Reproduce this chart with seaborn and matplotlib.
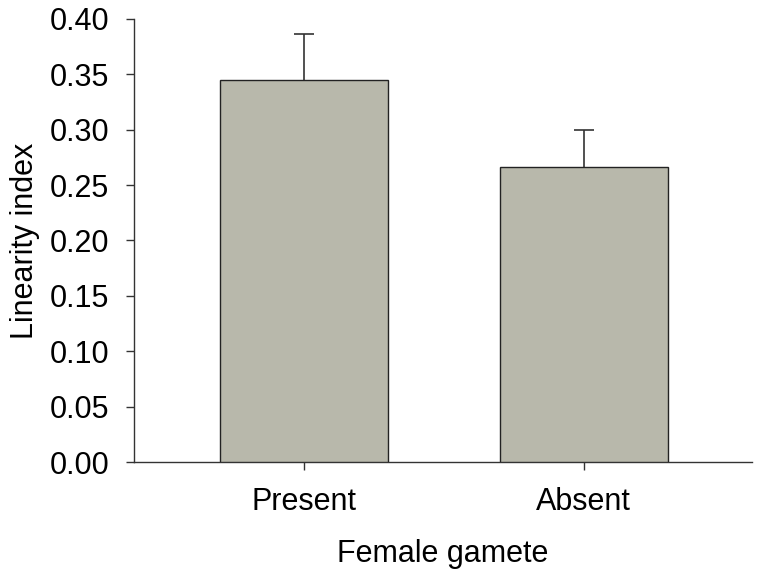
import numpy as np
import pandas as pd
import seaborn as sns
from matplotlib import pyplot as plt

# values
categories = ["Present", "Absent"]
means = [0.345, 0.266]
errors = [0.041, 0.034]
yticks = [0.00, 0.05, 0.10, 0.15, 0.20, 0.25, 0.30, 0.35, 0.40]

sns.set_style("ticks")
plt.rcParams["font.family"] = ["Liberation Sans", "DejaVu Sans"]
plt.rcParams["text.color"] = "black"
plt.rcParams["axes.labelcolor"] = "black"
plt.rcParams["xtick.color"] = "black"
plt.rcParams["ytick.color"] = "black"

df = pd.DataFrame({"gamete": categories, "index": means})

fig = plt.figure(figsize=(7.58, 5.77), dpi=100)
ax = fig.add_axes([0.1768, 0.1993, 0.815, 0.768])

sns.barplot(data=df, x="gamete", y="index", order=categories,
            color="#b8b8ab", width=0.6, edgecolor="#222222",
            linewidth=1.0, saturation=1, errorbar=None, ax=ax)
for p in ax.patches:
    p.set_zorder(3)

# error bars sit behind the bars, so only the upper half shows
ax.errorbar(np.arange(len(categories)), means, yerr=errors,
            fmt="none", ecolor="#333333", elinewidth=1.2,
            capsize=7, capthick=1.2, zorder=1)

ax.set_xlim(-0.607, 1.6)
ax.set_ylim(0, 0.40)
ax.set_yticks(yticks)
ax.set_yticklabels([f"{v:.2f}" for v in yticks])

ax.set_xlabel("Female gamete", fontsize=22, labelpad=16)
ax.set_ylabel("Linearity index", fontsize=22, labelpad=7)
ax.tick_params(axis="both", labelsize=22, length=6, width=1.0,
               color="#333333")
ax.tick_params(axis="y", pad=12)
ax.tick_params(axis="x", pad=12)

sns.despine(ax=ax)
for side in ["left", "bottom"]:
    ax.spines[side].set_color("#333333")
    ax.spines[side].set_linewidth(1.0)

fig.savefig("out.png", dpi=100)
